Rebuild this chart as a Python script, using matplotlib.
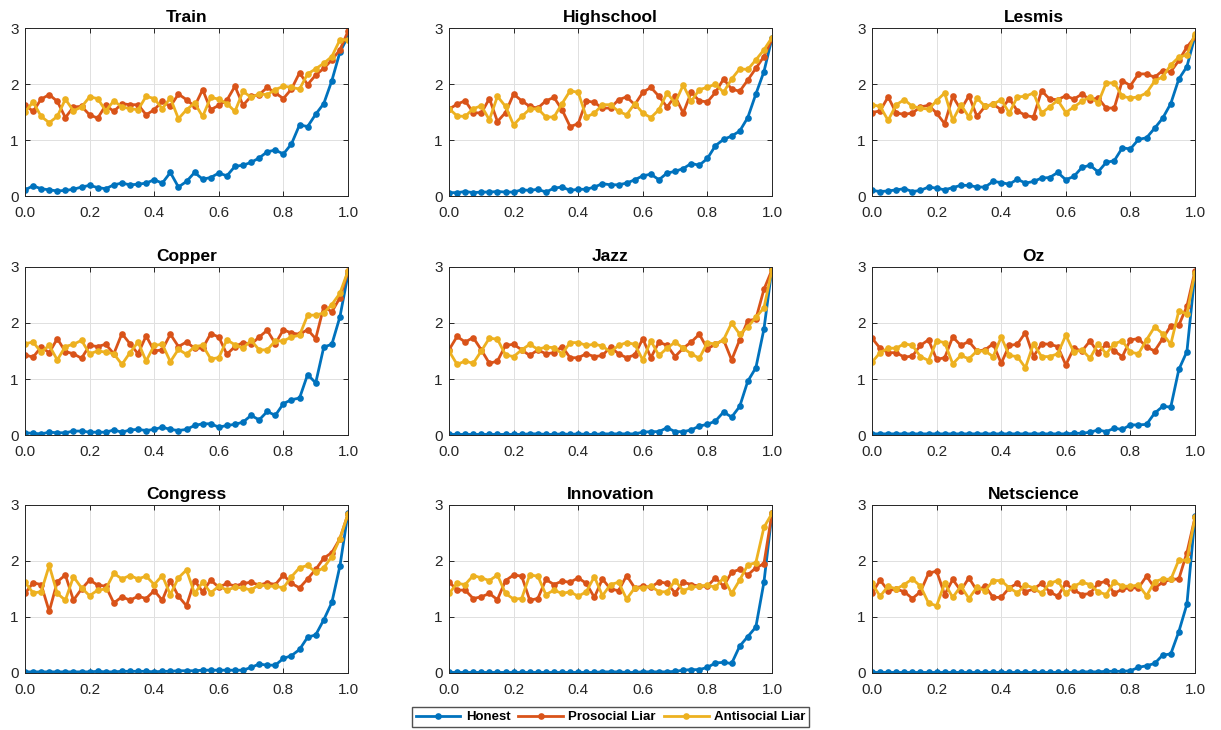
import numpy as np
import matplotlib
matplotlib.use('Agg')
import matplotlib.pyplot as plt
from matplotlib.ticker import FormatStrFormatter

plt.rcParams['font.family'] = ['Liberation Sans', 'DejaVu Sans']

# share of liars (x axis), 41 steps of 0.025
rho = np.linspace(0, 1, 41)

names = ['Train', 'Highschool', 'Lesmis', 'Copper', 'Jazz', 'Oz',
         'Congress', 'Innovation', 'Netscience']
labels = ['Honest', 'Prosocial Liar', 'Antisocial Liar']

train_honest = [0.11, 0.18, 0.13, 0.11, 0.09, 0.10, 0.12, 0.16, 0.19, 0.15, 0.13, 0.20, 0.23, 0.20, 0.21, 0.23, 0.29, 0.23, 0.42, 0.16, 0.26,
                0.42, 0.30, 0.33, 0.41, 0.36, 0.53, 0.55, 0.60, 0.68, 0.79, 0.82, 0.75, 0.93, 1.27, 1.24, 1.46, 1.65, 2.06, 2.57, 2.85]
train_prosocial = [1.63, 1.51, 1.73, 1.81, 1.69, 1.40, 1.59, 1.60, 1.45, 1.39, 1.62, 1.51, 1.65, 1.63, 1.63, 1.45, 1.54, 1.69, 1.60, 1.82, 1.72,
                   1.60, 1.90, 1.54, 1.62, 1.71, 1.96, 1.62, 1.78, 1.81, 1.94, 1.84, 1.74, 1.91, 2.20, 1.99, 2.16, 2.28, 2.43, 2.61, 2.94]
train_antisocial = [1.50, 1.68, 1.42, 1.31, 1.42, 1.73, 1.52, 1.59, 1.77, 1.74, 1.52, 1.70, 1.59, 1.56, 1.54, 1.78, 1.74, 1.56, 1.75, 1.38, 1.54,
                    1.66, 1.42, 1.76, 1.73, 1.65, 1.51, 1.87, 1.76, 1.82, 1.81, 1.90, 1.96, 1.94, 1.91, 2.18, 2.27, 2.37, 2.49, 2.79, 2.79]

highschool_honest = [0.06, 0.06, 0.08, 0.06, 0.07, 0.07, 0.08, 0.07, 0.07, 0.11, 0.10, 0.12, 0.07, 0.14, 0.16, 0.10, 0.12, 0.12, 0.16, 0.22, 0.20,
                     0.20, 0.23, 0.29, 0.36, 0.39, 0.29, 0.41, 0.44, 0.49, 0.58, 0.55, 0.67, 0.90, 1.01, 1.07, 1.16, 1.40, 1.82, 2.22, 2.82]
highschool_prosocial = [1.55, 1.64, 1.70, 1.49, 1.48, 1.74, 1.33, 1.49, 1.82, 1.70, 1.60, 1.57, 1.70, 1.76, 1.54, 1.24, 1.29, 1.70, 1.67, 1.57, 1.57,
                        1.72, 1.77, 1.63, 1.85, 1.94, 1.78, 1.59, 1.78, 1.48, 1.85, 1.70, 1.68, 1.85, 2.09, 1.91, 1.87, 2.07, 2.28, 2.49, 2.80]
highschool_antisocial = [1.56, 1.43, 1.42, 1.56, 1.61, 1.36, 1.78, 1.60, 1.27, 1.42, 1.55, 1.56, 1.41, 1.41, 1.65, 1.88, 1.85, 1.41, 1.48, 1.63, 1.63,
                         1.51, 1.45, 1.65, 1.48, 1.40, 1.54, 1.84, 1.66, 1.98, 1.69, 1.90, 1.94, 2.00, 1.85, 2.09, 2.27, 2.26, 2.43, 2.61, 2.83]

lesmis_honest = [0.10, 0.08, 0.09, 0.11, 0.13, 0.08, 0.10, 0.16, 0.14, 0.11, 0.15, 0.19, 0.19, 0.16, 0.16, 0.26, 0.24, 0.21, 0.30, 0.23, 0.26,
                 0.32, 0.33, 0.42, 0.29, 0.35, 0.51, 0.55, 0.43, 0.60, 0.63, 0.86, 0.84, 1.01, 1.04, 1.21, 1.39, 1.65, 2.09, 2.31, 2.86]
lesmis_prosocial = [1.49, 1.52, 1.77, 1.48, 1.46, 1.48, 1.59, 1.62, 1.48, 1.29, 1.78, 1.54, 1.79, 1.42, 1.60, 1.64, 1.54, 1.74, 1.52, 1.44, 1.41,
                    1.88, 1.73, 1.72, 1.79, 1.73, 1.82, 1.72, 1.75, 1.57, 1.57, 2.06, 1.97, 2.18, 2.18, 2.12, 2.24, 2.22, 2.42, 2.66, 2.84]
lesmis_antisocial = [1.63, 1.60, 1.35, 1.63, 1.72, 1.60, 1.57, 1.55, 1.70, 1.84, 1.35, 1.63, 1.41, 1.75, 1.60, 1.64, 1.72, 1.48, 1.77, 1.78, 1.84,
                     1.48, 1.59, 1.71, 1.49, 1.59, 1.69, 1.77, 1.66, 2.02, 2.02, 1.78, 1.75, 1.77, 1.84, 2.05, 2.13, 2.34, 2.48, 2.52, 2.90]

copper_honest = [0.04, 0.03, 0.02, 0.05, 0.04, 0.04, 0.07, 0.07, 0.05, 0.05, 0.05, 0.09, 0.05, 0.09, 0.10, 0.08, 0.10, 0.14, 0.10, 0.08, 0.10,
                 0.17, 0.20, 0.20, 0.14, 0.17, 0.19, 0.23, 0.35, 0.27, 0.42, 0.35, 0.56, 0.63, 0.66, 1.08, 0.93, 1.57, 1.62, 2.11, 2.87]
copper_prosocial = [1.43, 1.39, 1.57, 1.47, 1.72, 1.49, 1.45, 1.37, 1.60, 1.58, 1.62, 1.45, 1.81, 1.63, 1.45, 1.77, 1.50, 1.52, 1.80, 1.58, 1.66,
                    1.55, 1.55, 1.81, 1.75, 1.44, 1.58, 1.65, 1.62, 1.75, 1.87, 1.63, 1.88, 1.82, 1.80, 1.88, 1.72, 2.29, 2.20, 2.45, 2.92]
copper_antisocial = [1.63, 1.66, 1.48, 1.60, 1.34, 1.58, 1.62, 1.69, 1.45, 1.50, 1.48, 1.45, 1.26, 1.47, 1.66, 1.32, 1.60, 1.62, 1.31, 1.53, 1.44,
                     1.58, 1.60, 1.36, 1.38, 1.70, 1.61, 1.55, 1.69, 1.52, 1.52, 1.68, 1.68, 1.75, 1.78, 2.14, 2.14, 2.18, 2.33, 2.53, 2.93]

jazz_honest = [0.01, 0.01, 0.01, 0.01, 0.01, 0.01, 0.01, 0.01, 0.01, 0.01, 0.02, 0.02, 0.01, 0.01, 0.02, 0.01, 0.02, 0.01, 0.01, 0.02, 0.02,
               0.02, 0.02, 0.02, 0.05, 0.06, 0.06, 0.13, 0.06, 0.06, 0.09, 0.16, 0.19, 0.25, 0.41, 0.32, 0.51, 0.96, 1.20, 1.89, 2.98]
jazz_prosocial = [1.52, 1.76, 1.66, 1.74, 1.52, 1.28, 1.32, 1.60, 1.62, 1.52, 1.42, 1.52, 1.45, 1.47, 1.58, 1.38, 1.38, 1.45, 1.40, 1.42, 1.57,
                  1.45, 1.38, 1.43, 1.72, 1.38, 1.66, 1.60, 1.40, 1.55, 1.66, 1.80, 1.54, 1.62, 1.70, 1.34, 1.70, 2.04, 2.07, 2.60, 2.95]
jazz_antisocial = [1.50, 1.26, 1.32, 1.28, 1.50, 1.73, 1.71, 1.43, 1.40, 1.52, 1.62, 1.53, 1.57, 1.56, 1.45, 1.65, 1.65, 1.60, 1.62, 1.59, 1.48,
                   1.60, 1.65, 1.62, 1.34, 1.68, 1.42, 1.55, 1.66, 1.55, 1.45, 1.37, 1.65, 1.62, 1.70, 2.00, 1.80, 1.93, 2.10, 2.27, 2.95]

oz_honest = [0.02, 0.02, 0.02, 0.02, 0.02, 0.02, 0.02, 0.02, 0.02, 0.02, 0.02, 0.02, 0.02, 0.02, 0.02, 0.02, 0.02, 0.02, 0.02, 0.02, 0.02,
             0.02, 0.02, 0.02, 0.02, 0.03, 0.03, 0.05, 0.09, 0.06, 0.12, 0.10, 0.18, 0.18, 0.19, 0.39, 0.51, 0.50, 1.17, 1.49, 2.90]
oz_prosocial = [1.73, 1.55, 1.47, 1.47, 1.39, 1.41, 1.60, 1.70, 1.35, 1.38, 1.75, 1.60, 1.67, 1.50, 1.52, 1.63, 1.28, 1.60, 1.62, 1.83, 1.40,
                1.63, 1.62, 1.58, 1.25, 1.55, 1.50, 1.68, 1.47, 1.62, 1.50, 1.40, 1.70, 1.72, 1.57, 1.50, 1.72, 1.95, 1.96, 2.30, 2.93]
oz_antisocial = [1.30, 1.47, 1.55, 1.55, 1.63, 1.60, 1.40, 1.33, 1.68, 1.65, 1.27, 1.42, 1.36, 1.50, 1.50, 1.40, 1.75, 1.42, 1.40, 1.20, 1.63,
                 1.40, 1.40, 1.45, 1.78, 1.48, 1.52, 1.37, 1.63, 1.45, 1.63, 1.68, 1.48, 1.45, 1.70, 1.93, 1.81, 1.62, 2.22, 2.16, 2.90]

congress_honest = [0.02, 0.02, 0.02, 0.02, 0.02, 0.02, 0.02, 0.02, 0.02, 0.03, 0.02, 0.02, 0.03, 0.03, 0.03, 0.03, 0.02, 0.03, 0.03, 0.04, 0.04,
                   0.04, 0.05, 0.05, 0.05, 0.05, 0.05, 0.05, 0.10, 0.16, 0.14, 0.14, 0.26, 0.31, 0.42, 0.64, 0.68, 0.95, 1.26, 1.91, 2.86]
congress_prosocial = [1.42, 1.61, 1.58, 1.10, 1.63, 1.75, 1.30, 1.50, 1.66, 1.57, 1.55, 1.25, 1.36, 1.30, 1.37, 1.33, 1.47, 1.30, 1.65, 1.37, 1.20,
                      1.65, 1.45, 1.66, 1.53, 1.60, 1.55, 1.60, 1.62, 1.57, 1.61, 1.58, 1.75, 1.60, 1.52, 1.68, 1.85, 2.05, 2.15, 2.40, 2.84]
congress_antisocial = [1.62, 1.43, 1.45, 1.92, 1.42, 1.30, 1.72, 1.52, 1.38, 1.48, 1.50, 1.78, 1.68, 1.74, 1.68, 1.73, 1.58, 1.74, 1.40, 1.70, 1.84,
                       1.42, 1.62, 1.43, 1.55, 1.48, 1.53, 1.52, 1.48, 1.58, 1.55, 1.55, 1.52, 1.72, 1.88, 1.92, 1.80, 1.88, 2.08, 2.40, 2.84]

innovation_honest = [0.01, 0.01, 0.01, 0.01, 0.01, 0.01, 0.01, 0.01, 0.01, 0.01, 0.01, 0.01, 0.01, 0.01, 0.01, 0.01, 0.01, 0.01, 0.01, 0.02, 0.02,
                     0.02, 0.01, 0.01, 0.02, 0.02, 0.02, 0.02, 0.03, 0.05, 0.06, 0.06, 0.10, 0.18, 0.19, 0.17, 0.48, 0.65, 0.82, 1.62, 2.85]
innovation_prosocial = [1.63, 1.48, 1.48, 1.33, 1.36, 1.42, 1.31, 1.65, 1.75, 1.73, 1.30, 1.33, 1.67, 1.58, 1.64, 1.62, 1.70, 1.60, 1.35, 1.68, 1.50,
                        1.47, 1.74, 1.52, 1.55, 1.53, 1.63, 1.60, 1.43, 1.62, 1.58, 1.55, 1.55, 1.70, 1.55, 1.80, 1.85, 1.75, 1.88, 1.95, 2.85]
innovation_antisocial = [1.42, 1.60, 1.58, 1.74, 1.70, 1.65, 1.75, 1.42, 1.32, 1.33, 1.75, 1.73, 1.40, 1.48, 1.42, 1.45, 1.37, 1.45, 1.72, 1.38, 1.58,
                         1.62, 1.32, 1.52, 1.52, 1.55, 1.45, 1.45, 1.65, 1.47, 1.53, 1.55, 1.57, 1.53, 1.70, 1.42, 1.66, 1.93, 1.97, 2.60, 2.85]

netscience_honest = [0.01, 0.01, 0.01, 0.01, 0.01, 0.01, 0.01, 0.01, 0.01, 0.01, 0.01, 0.01, 0.01, 0.01, 0.01, 0.01, 0.01, 0.01, 0.01, 0.01, 0.01,
                     0.01, 0.01, 0.01, 0.01, 0.01, 0.02, 0.02, 0.02, 0.03, 0.03, 0.03, 0.04, 0.10, 0.13, 0.17, 0.32, 0.34, 0.74, 1.23, 2.80]
netscience_prosocial = [1.42, 1.66, 1.47, 1.50, 1.45, 1.33, 1.45, 1.78, 1.82, 1.40, 1.67, 1.47, 1.70, 1.47, 1.55, 1.35, 1.35, 1.52, 1.60, 1.45, 1.50,
                        1.60, 1.45, 1.37, 1.60, 1.48, 1.40, 1.42, 1.60, 1.64, 1.42, 1.50, 1.52, 1.52, 1.73, 1.52, 1.62, 1.67, 1.68, 2.15, 2.78]
netscience_antisocial = [1.60, 1.37, 1.55, 1.50, 1.58, 1.68, 1.55, 1.25, 1.20, 1.60, 1.35, 1.55, 1.33, 1.53, 1.47, 1.65, 1.65, 1.52, 1.43, 1.57, 1.52,
                         1.42, 1.60, 1.65, 1.42, 1.55, 1.62, 1.58, 1.45, 1.40, 1.63, 1.55, 1.55, 1.57, 1.38, 1.63, 1.68, 1.67, 2.02, 2.01, 2.78]

series = [
    (train_honest, train_prosocial, train_antisocial),
    (highschool_honest, highschool_prosocial, highschool_antisocial),
    (lesmis_honest, lesmis_prosocial, lesmis_antisocial),
    (copper_honest, copper_prosocial, copper_antisocial),
    (jazz_honest, jazz_prosocial, jazz_antisocial),
    (oz_honest, oz_prosocial, oz_antisocial),
    (congress_honest, congress_prosocial, congress_antisocial),
    (innovation_honest, innovation_prosocial, innovation_antisocial),
    (netscience_honest, netscience_prosocial, netscience_antisocial),
]

# MATLAB default colours
colors = ['#0072BD', '#D95319', '#EDB120']
dark = '#262626'

fig = plt.figure(figsize=(12.21, 7.30), dpi=100)

lefts = [25, 449, 872]      # pixel positions of the axes boxes
tops = [28, 267, 505]
w, h = 323, 168

handles = []
for k, name in enumerate(names):
    r, c = divmod(k, 3)
    ax = fig.add_axes([lefts[c] / 1221, 1 - (tops[r] + h) / 730, w / 1221, h / 730])
    for s, col in zip(series[k], colors):
        ln, = ax.plot(rho, s, color=col, lw=2, marker='o', markersize=4.8,
                      markeredgewidth=0)
        if k == 0:
            handles.append(ln)
    ax.set_xlim(0, 1)
    ax.set_ylim(0, 3)
    ax.set_xticks([0, 0.2, 0.4, 0.6, 0.8, 1.0])
    ax.set_yticks([0, 1, 2, 3])
    ax.xaxis.set_major_formatter(FormatStrFormatter('%.1f'))
    ax.grid(True, color='#e0e0e0', lw=0.7)
    ax.set_axisbelow(True)
    ax.tick_params(direction='in', top=True, right=True, length=3.5,
                   width=0.7, colors=dark, labelsize=11)
    ax.tick_params(axis='x', pad=7)
    ax.tick_params(axis='y', pad=4.5)
    for sp in ax.spines.values():
        sp.set_color(dark)
        sp.set_linewidth(0.7)
    ax.set_title(name, fontsize=12.5, fontweight='bold', pad=4)

fig.legend(handles, labels, loc='center', bbox_to_anchor=(0.5, 1 - 717 / 730),
           ncol=3, frameon=True, fancybox=False, edgecolor=dark,
           prop={'weight': 'bold', 'size': 9.5}, handlelength=3.4,
           columnspacing=0.6, handletextpad=0.4, borderpad=0.3,
           borderaxespad=0)

fig.savefig('out.png', dpi=100)
